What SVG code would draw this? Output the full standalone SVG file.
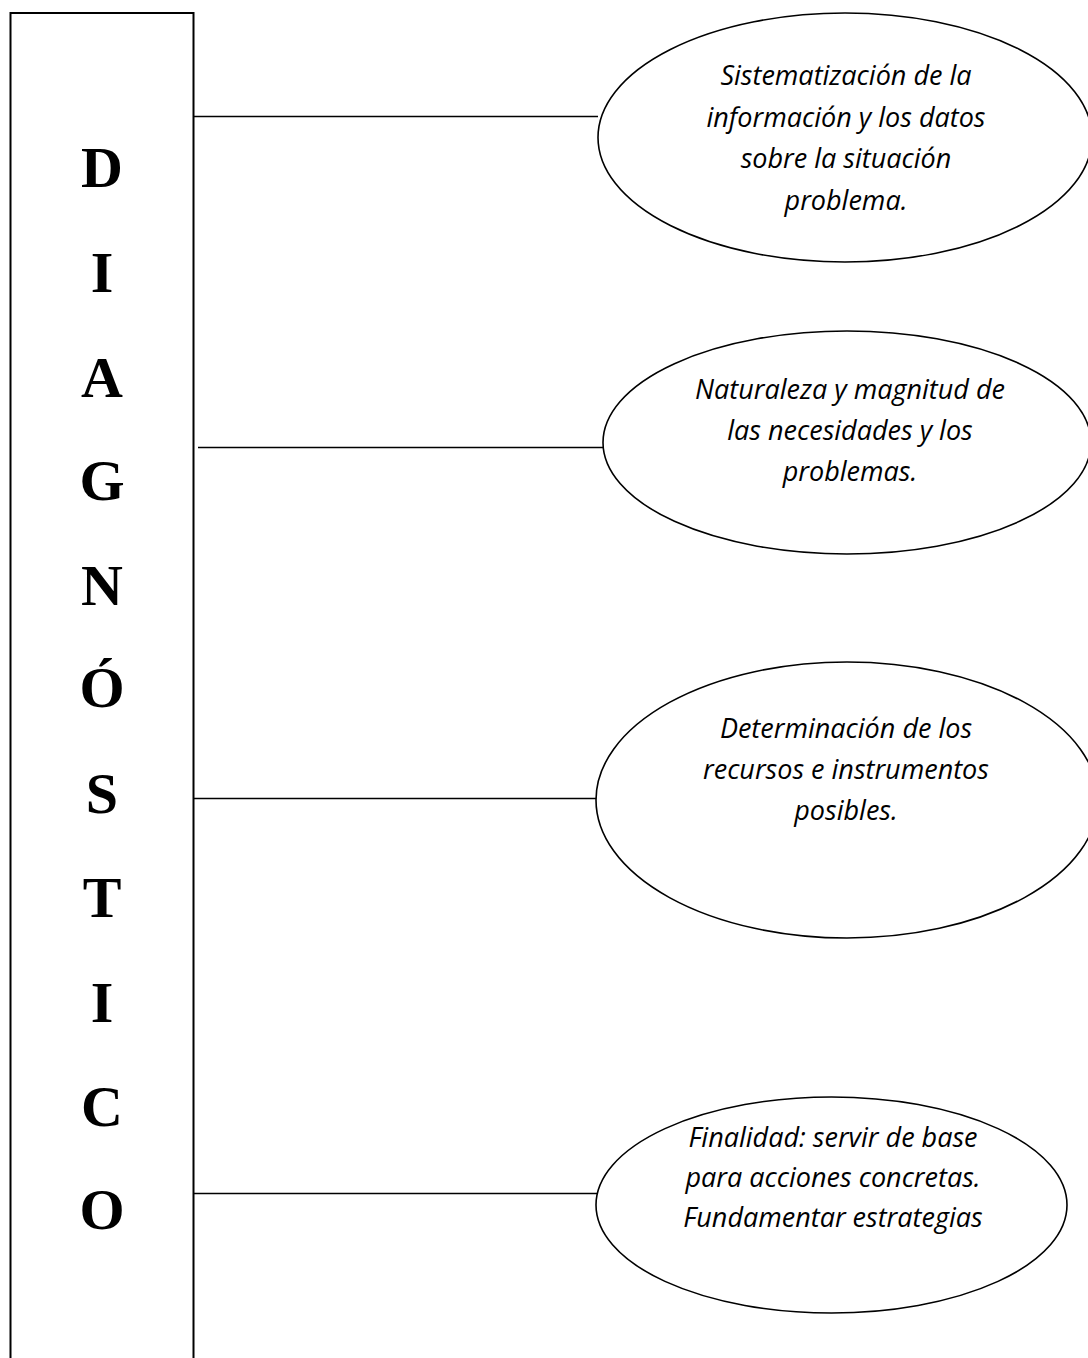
<svg xmlns="http://www.w3.org/2000/svg" width="1088" height="1358" viewBox="0 0 1088 1358">
  <style>
    .bg { fill: #ffffff; }
    .box { fill: #ffffff; stroke: #000000; stroke-width: 2; }
    .oval { fill: #ffffff; stroke: #000000; stroke-width: 1.6; }
    .conn { stroke: #000000; stroke-width: 1.6; fill: none; }
    .big { font-family: "Liberation Serif", "Times New Roman", serif; font-weight: bold; font-size: 58px; fill: #000000; text-anchor: middle; }
    .lbl { font-family: "Open Sans", "Liberation Sans", sans-serif; font-style: italic; font-size: 27px; fill: #000000; text-anchor: middle; }
  </style>
  <rect class="bg" x="0" y="0" width="1088" height="1358"/>

  <g id="diagnostico">
    <rect class="box" x="10.5" y="13" width="183" height="1360"/>
    <text class="big" x="102" y="187">D</text>
    <text class="big" x="102" y="292">I</text>
    <text class="big" x="102" y="397">A</text>
    <text class="big" x="102" y="500">G</text>
    <text class="big" x="102" y="605">N</text>
    <text class="big" x="102" y="707">Ó</text>
    <text class="big" x="102" y="813">S</text>
    <text class="big" x="102" y="917">T</text>
    <text class="big" x="102" y="1022">I</text>
    <text class="big" x="102" y="1126">C</text>
    <text class="big" x="102" y="1229">O</text>
  </g>

  <g id="connectors">
    <line class="conn" x1="193.5" y1="116.5" x2="598" y2="116.5"/>
    <line class="conn" x1="198" y1="447.5" x2="604" y2="447.5"/>
    <line class="conn" x1="193.5" y1="798.5" x2="597" y2="798.5"/>
    <line class="conn" x1="193.5" y1="1193.5" x2="597" y2="1193.5"/>
  </g>

  <g id="node1">
    <ellipse class="oval" cx="845" cy="137.5" rx="247" ry="124.5"/>
    <text class="lbl" x="846" y="85">Sistematización de la</text>
    <text class="lbl" x="846" y="127">información y los datos</text>
    <text class="lbl" x="846" y="168">sobre la situación</text>
    <text class="lbl" x="846" y="210">problema.</text>
  </g>

  <g id="node2">
    <ellipse class="oval" cx="847" cy="442.5" rx="244" ry="111.5"/>
    <text class="lbl" x="850" y="399">Naturaleza y magnitud de</text>
    <text class="lbl" x="850" y="440">las necesidades y los</text>
    <text class="lbl" x="850" y="481">problemas.</text>
  </g>

  <g id="node3">
    <ellipse class="oval" cx="847" cy="800" rx="251" ry="138"/>
    <text class="lbl" x="846" y="738">Determinación de los</text>
    <text class="lbl" x="846" y="779">recursos e instrumentos</text>
    <text class="lbl" x="846" y="820">posibles.</text>
  </g>

  <g id="node4">
    <ellipse class="oval" cx="831.5" cy="1205" rx="235.5" ry="108"/>
    <text class="lbl" x="833" y="1147">Finalidad: servir de base</text>
    <text class="lbl" x="833" y="1187">para acciones concretas.</text>
    <text class="lbl" x="833" y="1227">Fundamentar estrategias</text>
  </g>
</svg>
